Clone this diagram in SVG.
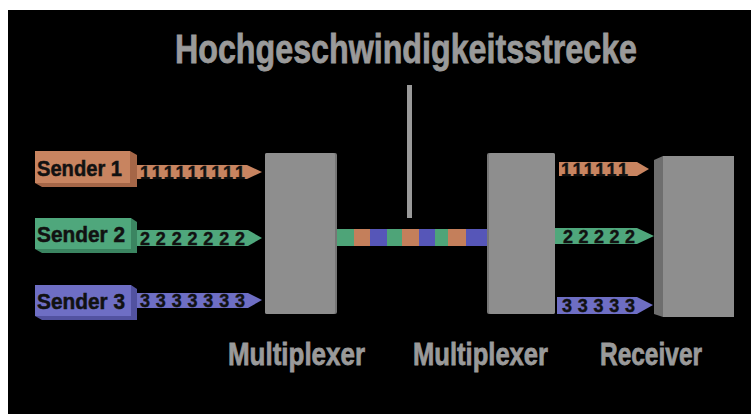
<svg xmlns="http://www.w3.org/2000/svg" width="751" height="414" viewBox="0 0 751 414">
<defs>
<style>
.lbl{font-family:"Liberation Sans Narrow","Liberation Sans",Arial,sans-serif;font-weight:bold;fill:#9a9a9a;stroke:#9a9a9a;stroke-width:0.8}
.snd{font-family:"Liberation Sans Narrow","Liberation Sans",Arial,sans-serif;font-weight:bold;fill:#111;stroke:#111;stroke-width:0.5;font-size:22px}
.dig{font-family:"Liberation Sans Narrow","Liberation Sans",Arial,sans-serif;font-weight:bold;fill:#111;stroke:#111;stroke-width:0.4;font-size:18px}
.box{fill:#8e8e8e}
.boxedge{fill:#767676}
.or{fill:#c88460}.orD{fill:#a56647}
.gr{fill:#4fa77c}.grD{fill:#3b8561}
.bl{fill:#6e6ec4}.blD{fill:#5252a0}
.sor{fill:#c47f5b}.sgr{fill:#4ea478}.sbl{fill:#5656b8}
</style>
</defs>
<rect x="0" y="0" width="751" height="414" fill="#ffffff"/>
<rect x="8" y="10" width="743" height="404" fill="#000000"/>

<g id="title">
<text class="lbl" x="175" y="63" font-size="40" textLength="462" lengthAdjust="spacingAndGlyphs">Hochgeschwindigkeitsstrecke</text>
<rect x="407" y="85" width="5" height="133" fill="#9a9a9a"/>
</g>

<g id="connectors">
<!-- input bars -->
<path class="or" d="M137,165 H247 L262,172 L247,179 H137 Z"/>
<text class="dig" x="140" y="178.5" textLength="105" lengthAdjust="spacing">111111111</text>
<path class="gr" d="M137,230 H248 L262,238 L248,246 H137 Z"/>
<text class="dig" x="140" y="244.5" textLength="105" lengthAdjust="spacing">2222222</text>
<path class="bl" d="M137,293 H248 L262,300 L248,308 H137 Z"/>
<text class="dig" x="140" y="306.5" textLength="105" lengthAdjust="spacing">3333333</text>
<!-- high-speed stripe -->
<rect class="sgr" x="337" y="229" width="17" height="17"/>
<rect class="sor" x="354" y="229" width="16" height="17"/>
<rect class="sbl" x="370" y="229" width="17" height="17"/>
<rect class="sgr" x="387" y="229" width="15" height="17"/>
<rect class="sor" x="402" y="229" width="17" height="17"/>
<rect class="sbl" x="419" y="229" width="16" height="17"/>
<rect class="sgr" x="435" y="229" width="13" height="17"/>
<rect class="sor" x="448" y="229" width="18" height="17"/>
<rect class="sbl" x="466" y="229" width="21" height="17"/>
<!-- output bars -->
<path class="or" d="M559,162 H637 L649,169 L637,176 H559 Z"/>
<text class="dig" x="561" y="175.5" textLength="67" lengthAdjust="spacing">111111</text>
<path class="gr" d="M555,228 H637 L654,236 L637,244 H555 Z"/>
<text class="dig" x="563" y="242.5" textLength="72" lengthAdjust="spacing">22222</text>
<path class="bl" d="M557,297 H637 L653,305 L637,314 H557 Z"/>
<text class="dig" x="562" y="311.5" textLength="73" lengthAdjust="spacing">33333</text>
</g>

<g id="sender1">
<path class="orD" d="M130,151 L137,155 L137,187 L42,187 L35,183 L130,183 Z"/>
<rect class="or" x="35" y="151" width="95" height="32"/>
<text class="snd" x="37" y="176" textLength="85" lengthAdjust="spacingAndGlyphs">Sender 1</text>
</g>
<g id="sender2">
<path class="grD" d="M131,218 L137,222 L137,253 L42,253 L35,249 L131,249 Z"/>
<rect class="gr" x="35" y="218" width="96" height="31"/>
<text class="snd" x="37" y="242" textLength="88" lengthAdjust="spacingAndGlyphs">Sender 2</text>
</g>
<g id="sender3">
<path class="blD" d="M131,285 L137,289 L137,320 L42,320 L35,316 L131,316 Z"/>
<rect class="bl" x="35" y="285" width="96" height="31"/>
<text class="snd" x="37" y="309" textLength="88" lengthAdjust="spacingAndGlyphs">Sender 3</text>
</g>

<g id="mux1">
<rect class="boxedge" x="265" y="153" width="72" height="161" rx="2"/>
<rect class="box" x="265" y="153" width="70" height="161" rx="2"/>
<text class="lbl" x="228" y="365" font-size="32" textLength="137" lengthAdjust="spacingAndGlyphs">Multiplexer</text>
</g>
<g id="mux2">
<rect class="boxedge" x="487" y="153" width="68" height="161" rx="2"/>
<rect class="box" x="489" y="153" width="66" height="161" rx="2"/>
<text class="lbl" x="413" y="365" font-size="32" textLength="135" lengthAdjust="spacingAndGlyphs">Multiplexer</text>
</g>
<g id="receiver">
<path d="M654,160 L663,156 L663,317 L654,314 Z" fill="#6e6e6e"/>
<rect class="box" x="663" y="156" width="71" height="161"/>
<text class="lbl" x="600" y="365" font-size="32" textLength="102" lengthAdjust="spacingAndGlyphs">Receiver</text>
</g>
</svg>
